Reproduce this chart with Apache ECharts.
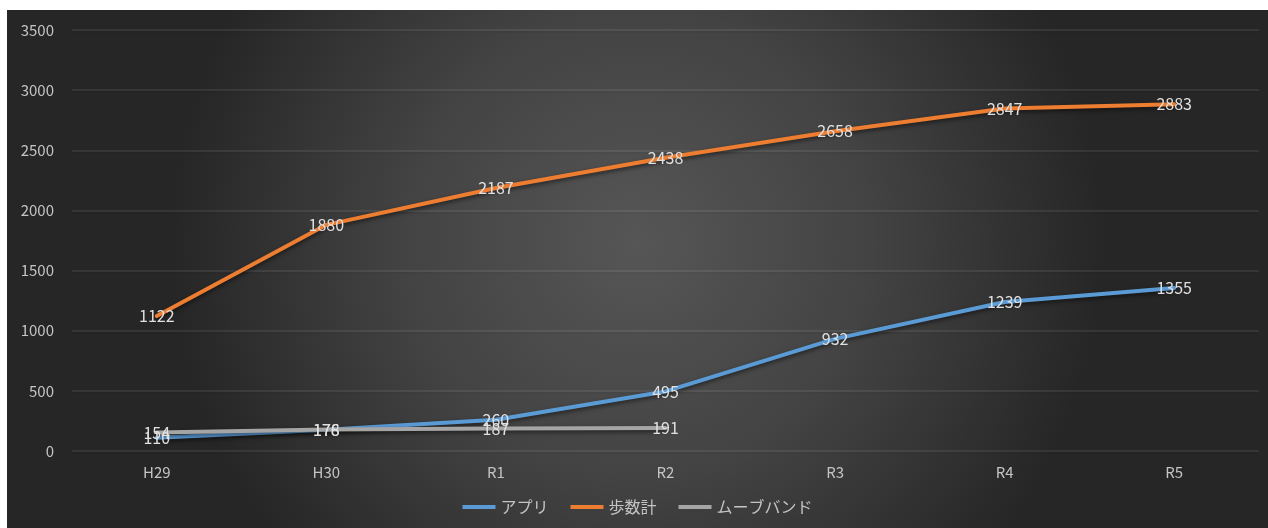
<!DOCTYPE html>
<html>
<head>
<meta charset="utf-8">
<script src="https://cdn.jsdelivr.net/npm/echarts@6/dist/echarts.min.js"></script>
<style>
  html, body { margin: 0; padding: 0; background: #ffffff; }
  #chart { position: absolute; left: 7px; top: 10px; width: 1261px; height: 518px; }
</style>
</head>
<body>
<div id="chart"></div>
<script>
// Fiscal years
const categories = ['H29', 'H30', 'R1', 'R2', 'R3', 'R4', 'R5'];
// Participants by device type
const appValues = [110, 176, 260, 495, 932, 1239, 1355];
const pedometerValues = [1122, 1880, 2187, 2438, 2658, 2847, 2883];
const moveBandValues = [154, 178, 187, 191, null, null, null];
const seriesNames = ['アプリ', '歩数計', 'ムーブバンド'];
const yTicks = { min: 0, max: 3500, interval: 500 };

const colors = ['#5b9bd5', '#ed7d31', '#a5a5a5'];
const font = '"Noto Sans CJK JP", "Noto Sans", sans-serif';

const chart = echarts.init(document.getElementById('chart'));

function lineSeries(name, data, color) {
  return {
    name: name,
    type: 'line',
    data: data,
    symbol: 'circle',
    symbolSize: 0,
    showSymbol: true,
    connectNulls: false,
    itemStyle: { color: color },
    lineStyle: {
      color: color,
      width: 4,
      cap: 'round',
      shadowColor: 'rgba(0,0,0,0.55)',
      shadowBlur: 4,
      shadowOffsetY: 2
    },
    label: {
      show: true,
      position: 'inside',
      color: '#e0e0e0',
      fontFamily: font,
      fontSize: 16
    },
    emphasis: { disabled: true }
  };
}

chart.setOption({
  animation: false,
  backgroundColor: {
    type: 'radial',
    x: 0.5, y: 0.45, r: 0.9,
    colorStops: [
      { offset: 0, color: '#565656' },
      { offset: 0.5, color: '#434343' },
      { offset: 1, color: '#262626' }
    ]
  },
  textStyle: { fontFamily: font },
  grid: { left: 65, right: 9, top: 20, bottom: 77 },
  legend: {
    bottom: 8,
    left: 'center',
    icon: 'rect',
    itemWidth: 33,
    itemHeight: 4,
    itemGap: 22,
    textStyle: { color: '#c4c4c4', fontSize: 16, fontFamily: font },
    data: seriesNames
  },
  xAxis: {
    type: 'category',
    data: categories,
    boundaryGap: true,
    axisLine: { show: false },
    axisTick: { show: false },
    axisLabel: { color: '#c4c4c4', fontSize: 15, margin: 14, fontFamily: font }
  },
  yAxis: {
    type: 'value',
    min: yTicks.min,
    max: yTicks.max,
    interval: yTicks.interval,
    axisLine: { show: false },
    axisTick: { show: false },
    axisLabel: {
      color: '#c4c4c4', fontSize: 15, margin: 18, fontFamily: font,
      formatter: (v) => String(v)
    },
    splitLine: {
      lineStyle: {
        color: 'rgba(255,255,255,0.10)',
        width: 1.5,
        shadowColor: 'rgba(0,0,0,0.45)',
        shadowBlur: 1,
        shadowOffsetY: 2
      }
    }
  },
  series: [
    lineSeries(seriesNames[0], appValues, colors[0]),
    lineSeries(seriesNames[1], pedometerValues, colors[1]),
    lineSeries(seriesNames[2], moveBandValues, colors[2])
  ]
});
</script>
</body>
</html>
